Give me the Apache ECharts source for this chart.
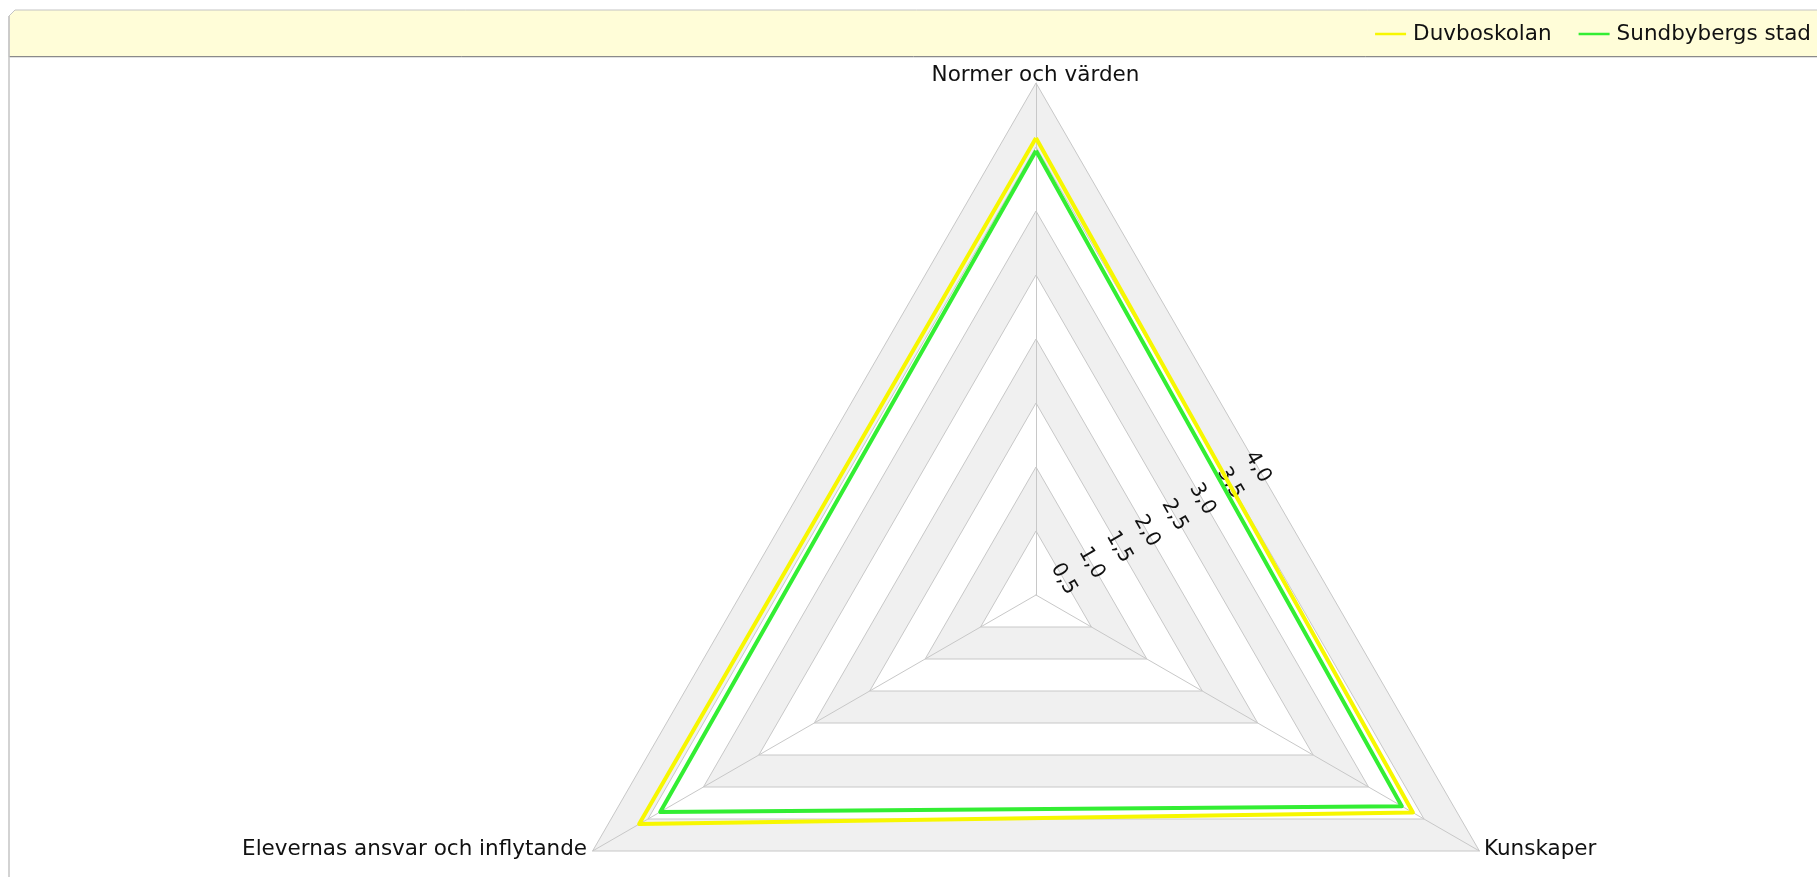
<!DOCTYPE html>
<html>
<head>
<meta charset="utf-8">
<script src="https://cdn.jsdelivr.net/npm/echarts@6/dist/echarts.min.js"></script>
<style>
html,body{margin:0;padding:0;background:#fff;}
#chart{width:1817px;height:877px;}
</style>
</head>
<body>
<div id="chart"></div>
<script>
// ---- data ----
var categories = ['Normer och värden', 'Elevernas ansvar och inflytande', 'Kunskaper'];
var seriesNames = ['Duvboskolan', 'Sundbybergs stad'];
var duvboskolan = [3.57, 3.58, 3.40];
var sundbybergsStad = [3.47, 3.39, 3.30];
var axisMax = 4;
var tickInterval = 0.5;
var seriesColors = ['#f7f700', '#33ee33'];

var FONT = '"DejaVu Sans", sans-serif';
var chart = echarts.init(document.getElementById('chart'), null, {renderer: 'canvas'});

var cx = 1036, cy = 595, R = 512;

var option = {
  animation: false,
  backgroundColor: '#ffffff',
  graphic: [
    {
      type: 'polygon', z: -10, silent: true,
      shape: {points: [[9, 16], [15, 10], [1830, 10], [1830, 57], [9, 57]]},
      style: {fill: '#fffdd8', stroke: '#c4c4c4', lineWidth: 1}
    },
    {
      type: 'line', z: -9, silent: true,
      shape: {x1: 9, y1: 56.5, x2: 1830, y2: 56.5},
      style: {stroke: '#8a8a8a', lineWidth: 1}
    },
    {
      type: 'line', z: -9, silent: true,
      shape: {x1: 9, y1: 16, x2: 9, y2: 900},
      style: {stroke: '#c4c4c4', lineWidth: 1.5}
    }
  ],
  legend: {
    right: 6,
    top: 23,
    padding: 0,
    itemGap: 27,
    itemWidth: 31,
    itemHeight: 2.5,
    icon: 'rect',
    data: seriesNames,
    textStyle: {fontFamily: FONT, fontSize: 21.5, color: '#111', padding: [0, 0, 0, 2], lineHeight: 22}
  },
  radar: {
    center: [cx, cy],
    radius: R,
    startAngle: 90,
    shape: 'polygon',
    splitNumber: axisMax / tickInterval,
    nameGap: -2.5,
    indicator: categories.map(function (c) { return {name: c, min: 0, max: axisMax}; }),
    axisName: {
      color: '#111',
      fontFamily: FONT,
      fontSize: 21.5,
      lineHeight: 21,
      padding: [22.5, 7.7, 0, 6.7]
    },
    axisLine: {lineStyle: {color: '#c8c8c8', width: 1}},
    splitLine: {lineStyle: {color: '#c8c8c8', width: 1}},
    splitArea: {show: true, areaStyle: {color: ['#ffffff', '#f0f0f0']}},
    axisLabel: {show: false},
    axisTick: {show: false}
  },
  polar: {
    center: [cx, cy],
    radius: R / 2
  },
  angleAxis: {
    type: 'value',
    startAngle: 30,
    show: false
  },
  radiusAxis: {
    type: 'value',
    min: 0,
    max: axisMax,
    interval: tickInterval,
    axisLine: {show: false},
    axisTick: {show: false},
    splitLine: {show: false},
    axisLabel: {
      show: true,
      rotate: -60,
      margin: 0,
      align: 'center',
      verticalAlign: 'middle',
      fontFamily: FONT,
      fontSize: 20.5,
      color: '#111',
      formatter: function (v) {
        if (v <= 0) return '';
        return v.toFixed(1).replace('.', ',');
      }
    }
  },
  series: [
    {
      type: 'radar',
      symbol: 'none',
      silent: true,
      z: 5,
      data: [
        {
          name: seriesNames[0],
          value: duvboskolan,
          itemStyle: {color: seriesColors[0]},
          lineStyle: {color: seriesColors[0], width: 4}
        },
        {
          name: seriesNames[1],
          value: sundbybergsStad,
          itemStyle: {color: seriesColors[1]},
          lineStyle: {color: seriesColors[1], width: 4}
        }
      ]
    }
  ]
};
chart.setOption(option);
</script>
</body>
</html>
